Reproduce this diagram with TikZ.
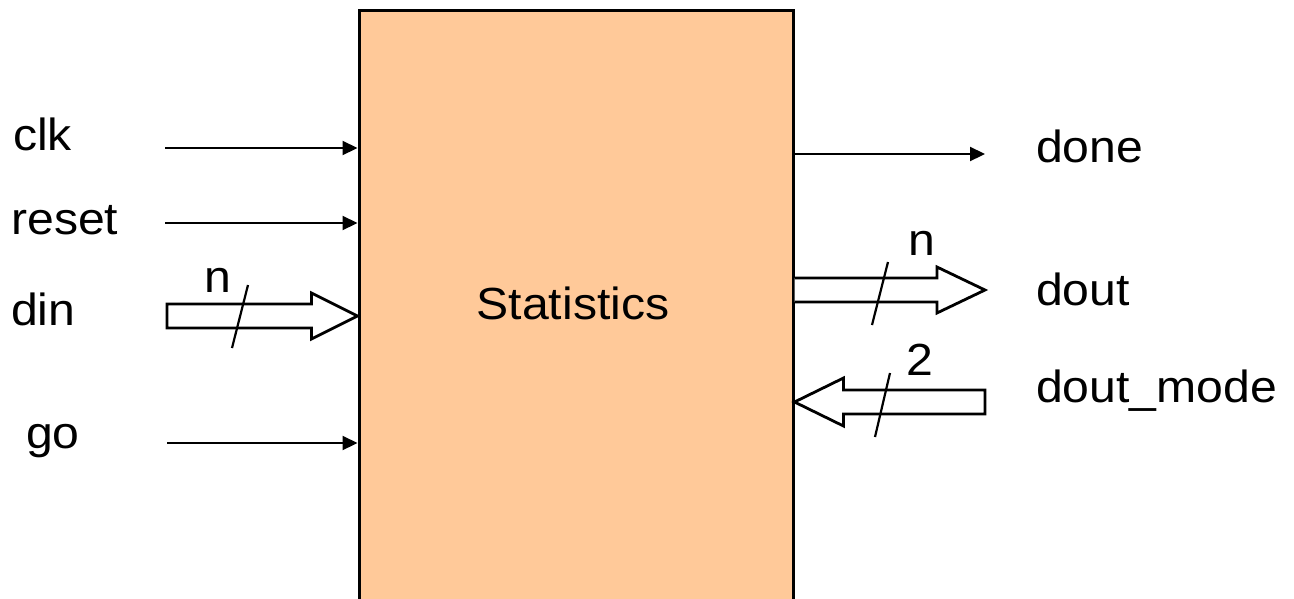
\documentclass[tikz,border=0pt]{standalone}
\usepackage{fontspec}
\setmainfont{Liberation Sans}[FakeStretch=1.07]
\usetikzlibrary{arrows.meta,calc}
\definecolor{boxfill}{RGB}{255,201,153}
\tikzset{
  lbl/.style={anchor=base west,inner sep=0pt,font=\fontsize{45}{54}\selectfont},
  sig/.style={line width=2.2pt,-{Triangle[length=15pt,width=14pt]}},
  bus/.style={line width=2.8pt,fill=white,line join=miter},
  slash/.style={line width=2.2pt},
  blk/.style={draw,line width=3pt,fill=boxfill,minimum width=434pt,minimum height=590pt,inner sep=0pt}
}
\begin{document}
\begin{tikzpicture}[x=1pt,y=-1pt]
\clip (0,0) rectangle (1294,598);
\fill[white] (0,0) rectangle (1294,598);
\node[blk] (stat) at (576,305) {};
\node[lbl,anchor=base] (stattext) at (573,319) {Statistics};
% left labels
\node[lbl] (clk) at (13,150) {clk};
\node[lbl] (reset) at (11,234) {reset};
\node[lbl] (din) at (11,325) {din};
\node[lbl] (go) at (26,448) {go};
% right labels
\node[lbl] (done) at (1036,162) {done};
\node[lbl] (dout) at (1036,305) {dout};
\node[lbl] (doutmode) at (1036,402) {dout\_mode};
% bus width labels
\node[lbl] (nin) at (204,292) {n};
\node[lbl] (nout) at (908,255) {n};
\node[lbl] (two) at (906,375) {2};
% single-bit inputs
\coordinate (clkS) at (165,148);
\coordinate (resetS) at (165,223);
\coordinate (goS) at (167,443);
\draw[sig] (clkS) -- (stat.west |- clkS);
\draw[sig] (resetS) -- (stat.west |- resetS);
\draw[sig] (goS) -- (stat.west |- goS);
% done output
\coordinate (doneE) at (985,154);
\draw[sig] (stat.east |- doneE) -- (doneE);
% din bus
\coordinate (dinS) at (167,316);
\coordinate (dinE) at (stat.west |- dinS);
\draw[bus] ($(dinS)+(0,-12)$) -- ($(dinE)+(-46,-12)$) -- ($(dinE)+(-46,-23)$) -- (dinE)
  -- ($(dinE)+(-46,23)$) -- ($(dinE)+(-46,12)$) -- ($(dinS)+(0,12)$) -- cycle;
\draw[slash] (232,348) -- (248,285);
% dout bus
\coordinate (doutE) at (985,290);
\coordinate (doutS) at (stat.east |- doutE);
\draw[bus] ($(doutS)+(0,-12)$) -- ($(doutE)+(-48,-12)$) -- ($(doutE)+(-48,-23)$) -- (doutE)
  -- ($(doutE)+(-48,23)$) -- ($(doutE)+(-48,12)$) -- ($(doutS)+(0,12)$);
\draw[slash] (872,325) -- (888,262);
% dout_mode bus
\coordinate (dmS) at (985,402);
\coordinate (dmE) at (stat.east |- dmS);
\draw[bus] ($(dmS)+(0,-12)$) -- ($(dmE)+(49,-12)$) -- ($(dmE)+(49,-24)$) -- (dmE)
  -- ($(dmE)+(49,24)$) -- ($(dmE)+(49,12)$) -- ($(dmS)+(0,12)$) -- cycle;
\draw[slash] (875,437) -- (890,373);
\end{tikzpicture}
\end{document}
